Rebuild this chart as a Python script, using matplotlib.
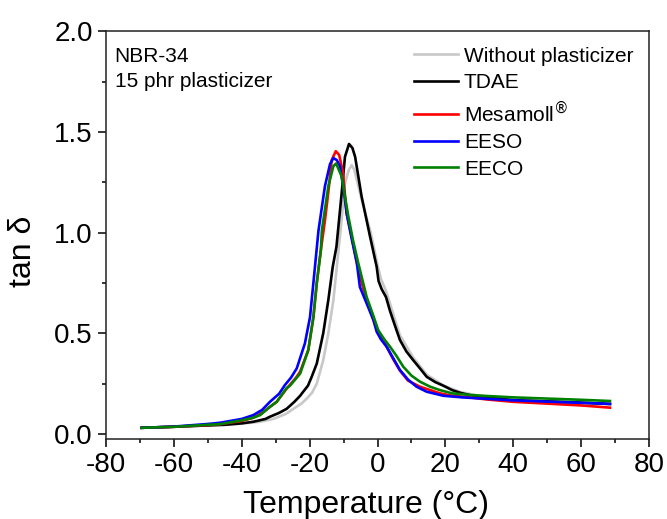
import matplotlib
matplotlib.use("Agg")
import matplotlib.pyplot as plt
from matplotlib.ticker import MultipleLocator

plt.rcParams['font.family'] = ['Liberation Sans', 'DejaVu Sans']
plt.rcParams['axes.unicode_minus'] = False

# tan delta vs temperature
x_neat = [-69.5, -60, -50, -45, -40, -35, -30.7, -27, -24.8, -22.5, -20.9, -19.3, -17.9, -16.0,
          -14.5, -13.0, -12.0, -10.6, -9.6, -8.5, -7.6, -6.8, -5.5, -4.0, -2.0, 0.0, 1.0, 2.5,
          4.0, 6.6, 10.5, 14.5, 19.5, 24.5, 30, 40, 50, 60, 68.5]
y_neat = [0.031, 0.036, 0.042, 0.046, 0.052, 0.06, 0.075, 0.1, 0.125, 0.15, 0.175, 0.205, 0.25,
          0.367, 0.5, 0.665, 0.83, 1.06, 1.244, 1.31, 1.335, 1.31, 1.22, 1.12, 1.0, 0.84, 0.77,
          0.71, 0.63, 0.49, 0.38, 0.295, 0.24, 0.208, 0.19, 0.172, 0.163, 0.156, 0.149]

x_tdae = [-69.5, -60, -50, -45, -40, -36.6, -33, -31.7, -29, -26.8, -24.5, -22.8, -21.9, -20.5,
          -19.4, -17.9, -16.0, -14.5, -13.2, -12.1, -10.6, -9.6, -8.4, -7.4, -6.6, -4.7, -2.2,
          -0.25, 0.3, 1.2, 2.5, 3.7, 5.1, 6.6, 8.5, 10.5, 12.5, 14.5, 17, 19.4, 22, 24.3, 28,
          32.2, 40, 50, 60, 68.5]
y_tdae = [0.031, 0.036, 0.043, 0.046, 0.053, 0.061, 0.075, 0.086, 0.105, 0.125, 0.16, 0.19, 0.21,
          0.24, 0.284, 0.35, 0.5, 0.665, 0.83, 0.93, 1.19, 1.376, 1.44, 1.42, 1.376, 1.18, 0.98,
          0.83, 0.76, 0.72, 0.68, 0.61, 0.54, 0.467, 0.41, 0.367, 0.326, 0.284, 0.258, 0.24,
          0.218, 0.205, 0.19, 0.183, 0.168, 0.162, 0.156, 0.149]

x_mesa = [-69.5, -60, -50, -46.4, -40, -36.6, -34, -31.7, -29.7, -26.8, -24, -22.8, -20.4, -18.9,
          -17.9, -16.7, -15.5, -14.5, -13.5, -12.3, -11.3, -10.2, -9.1, -7.5, -6.1, -4.5, -2.5,
          -1.2, -0.25, 0.5, 2.7, 4.5, 6.6, 9, 12.5, 18.4, 22, 27.2, 32, 40, 50, 60, 68.5]
y_mesa = [0.031, 0.036, 0.045, 0.049, 0.065, 0.081, 0.105, 0.135, 0.16, 0.225, 0.28, 0.31, 0.417,
          0.58, 0.75, 0.913, 1.06, 1.2, 1.36, 1.404, 1.385, 1.3, 1.095, 0.97, 0.85, 0.74, 0.63,
          0.566, 0.52, 0.5, 0.433, 0.375, 0.315, 0.265, 0.235, 0.202, 0.19, 0.182, 0.172, 0.16,
          0.151, 0.142, 0.131]

x_eeso = [-69.5, -60, -50, -46.4, -40, -36.6, -34, -31.7, -29, -27.3, -25.5, -23.8, -21.4, -19.9,
          -18.9, -17.4, -15.5, -14.0, -13.0, -12.0, -11.1, -10.0, -9.1, -7.5, -6.1, -5.2, -3.0,
          -1.2, -0.25, 1.0, 2.7, 4.5, 6.6, 9, 11.5, 14.5, 19.4, 25, 30, 39, 50, 60, 68.5]
y_eeso = [0.031, 0.037, 0.05, 0.056, 0.075, 0.094, 0.12, 0.16, 0.2, 0.243, 0.28, 0.326, 0.45,
          0.58, 0.75, 1.01, 1.23, 1.34, 1.37, 1.36, 1.33, 1.22, 1.095, 0.96, 0.85, 0.73, 0.64,
          0.566, 0.508, 0.47, 0.433, 0.38, 0.318, 0.27, 0.235, 0.21, 0.19, 0.182, 0.177, 0.168,
          0.161, 0.155, 0.15]

x_eeco = [-69.5, -60, -50, -46.4, -40, -36.6, -34.6, -31.7, -29.7, -26.8, -25.8, -22.8, -20.4,
          -18.9, -17.9, -16.7, -16.4, -14.5, -13.0, -12.2, -10.6, -8.6, -7.2, -5.7, -3.2, -1.5,
          0.2, 2.0, 3.7, 5.5, 7.6, 10, 12.5, 15.5, 18.4, 22, 27.2, 32, 40, 50, 60, 68.5]
y_eeco = [0.031, 0.036, 0.046, 0.049, 0.068, 0.081, 0.094, 0.135, 0.16, 0.228, 0.24, 0.3, 0.417,
          0.58, 0.75, 0.913, 1.01, 1.23, 1.33, 1.343, 1.28, 1.08, 0.96, 0.85, 0.68, 0.6, 0.516,
          0.47, 0.433, 0.39, 0.334, 0.29, 0.26, 0.235, 0.218, 0.202, 0.194, 0.189, 0.182, 0.176,
          0.17, 0.164]

series = [
    (x_neat, y_neat, '#c8c8c8', 'Without plasticizer'),
    (x_tdae, y_tdae, 'black', 'TDAE'),
    (x_mesa, y_mesa, '#ff0000', 'Mesamoll$^{®}$'),
    (x_eeso, y_eeso, '#0000ff', 'EESO'),
    (x_eeco, y_eeco, '#008000', 'EECO'),
]

fig = plt.figure(figsize=(6.67, 5.19), dpi=100)
ax = fig.add_axes([0.159, 0.154, 0.814, 0.786])

for xs, ys, col, lab in series:
    ax.plot(xs, ys, color=col, lw=1.9, label=lab, solid_joinstyle='round')

ax.set_xlim(-80, 80)
ax.set_ylim(-0.025, 2.0)
ax.xaxis.set_major_locator(MultipleLocator(20))
ax.xaxis.set_minor_locator(MultipleLocator(10))
ax.yaxis.set_major_locator(MultipleLocator(0.5))
ax.yaxis.set_minor_locator(MultipleLocator(0.25))
ax.yaxis.set_major_formatter(plt.FormatStrFormatter('%.1f'))

ax.tick_params(which='both', direction='out', top=False, right=False, labelsize=20, width=1.1)
ax.tick_params(which='major', length=5.5, pad=4)
ax.tick_params(which='minor', length=3)
for sp in ax.spines.values():
    sp.set_linewidth(1.1)
    sp.set_color('#222222')

ax.set_xlabel('Temperature (°C)', fontsize=23)
ax.xaxis.set_label_coords(0.479, -0.126, transform=ax.transAxes)
ax.xaxis.label.set_va('top')
ax.set_ylabel('tan δ', fontsize=23)
ax.yaxis.set_label_coords(-0.125, 0.46, transform=ax.transAxes)

ax.text(0.016, 0.962, 'NBR-34\n15 phr plasticizer', transform=ax.transAxes, fontsize=15,
        va='top', ha='left', linespacing=1.4)

leg = ax.legend(loc='upper left', bbox_to_anchor=(0.567, 0.962), frameon=False, fontsize=15,
                handlelength=2.1, handletextpad=0.3, labelspacing=0.36, borderpad=0,
                borderaxespad=0)

fig.savefig('out.png', dpi=100)
